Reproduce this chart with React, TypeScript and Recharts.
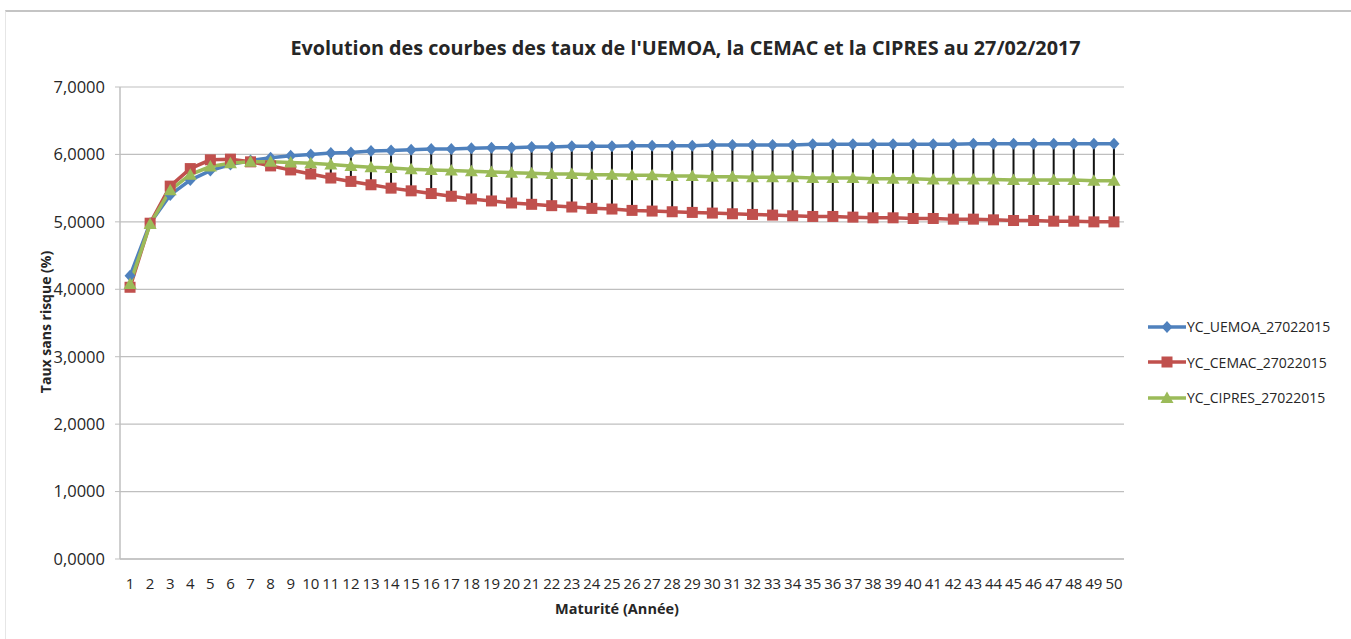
import React from "react";
import { ComposedChart, Line, Bar, XAxis, YAxis, CartesianGrid } from "recharts";

const maturities = [
  "1", "2", "3", "4", "5", "6", "7", "8", "9", "10",
  "11", "12", "13", "14", "15", "16", "17", "18", "19", "20",
  "21", "22", "23", "24", "25", "26", "27", "28", "29", "30",
  "31", "32", "33", "34", "35", "36", "37", "38", "39", "40",
  "41", "42", "43", "44", "45", "46", "47", "48", "49", "50",
];

const uemoa = [
  4.2, 4.98, 5.4, 5.62, 5.76, 5.85, 5.91, 5.95, 5.98, 6.0,
  6.02, 6.03, 6.05, 6.06, 6.07, 6.08, 6.08, 6.09, 6.1, 6.1,
  6.11, 6.11, 6.12, 6.12, 6.12, 6.13, 6.13, 6.13, 6.13, 6.14,
  6.14, 6.14, 6.14, 6.14, 6.15, 6.15, 6.15, 6.15, 6.15, 6.15,
  6.15, 6.15, 6.16, 6.16, 6.16, 6.16, 6.16, 6.16, 6.16, 6.16,
];

const cemac = [
  4.03, 4.98, 5.53, 5.79, 5.92, 5.93, 5.89, 5.83, 5.77, 5.71,
  5.65, 5.6, 5.55, 5.5, 5.46, 5.42, 5.38, 5.34, 5.31, 5.28,
  5.26, 5.24, 5.22, 5.2, 5.19, 5.17, 5.16, 5.15, 5.14, 5.13,
  5.12, 5.11, 5.1, 5.09, 5.08, 5.08, 5.07, 5.06, 5.06, 5.05,
  5.05, 5.04, 5.04, 5.03, 5.02, 5.02, 5.01, 5.01, 5.0, 5.0,
];

const cipres = [
  4.08, 4.97, 5.47, 5.7, 5.82, 5.87, 5.89, 5.89, 5.88, 5.87,
  5.85, 5.83, 5.81, 5.8, 5.78, 5.77, 5.76, 5.75, 5.74, 5.73,
  5.72, 5.71, 5.71, 5.7, 5.7, 5.69, 5.69, 5.68, 5.68, 5.67,
  5.67, 5.66, 5.66, 5.66, 5.65, 5.65, 5.65, 5.64, 5.64, 5.64,
  5.63, 5.63, 5.63, 5.63, 5.62, 5.62, 5.62, 5.62, 5.61, 5.61,
];

const yTicks = [0, 1, 2, 3, 4, 5, 6, 7];

const seriesNames = ["YC_UEMOA_27022015", "YC_CEMAC_27022015", "YC_CIPRES_27022015"];
const BLUE = "#4f81bd";
const RED = "#c0504d";
const GREEN = "#9bbb59";

const data = maturities.map((m, i) => {
  const vals = [uemoa[i], cemac[i], cipres[i]];
  return {
    m,
    uemoa: uemoa[i],
    cemac: cemac[i],
    cipres: cipres[i],
    hl: [Math.min(...vals), Math.max(...vals)],
  };
});

const FONT = "'Open Sans', sans-serif";

const Diamond = ({ cx, cy, color }: any) => (
  <polygon
    points={`${cx},${cy - 6} ${cx + 5.5},${cy} ${cx},${cy + 6} ${cx - 5.5},${cy}`}
    fill={color}
  />
);
const Square = ({ cx, cy, color }: any) => (
  <rect x={cx - 5.5} y={cy - 5.5} width={11} height={11} fill={color} />
);
const Triangle = ({ cx, cy, color }: any) => (
  <polygon points={`${cx},${cy - 6.5} ${cx + 6.5},${cy + 5} ${cx - 6.5},${cy + 5}`} fill={color} />
);

const markers = [
  (p: any) => <Diamond key={p.key} cx={p.cx} cy={p.cy} color={BLUE} />,
  (p: any) => <Square key={p.key} cx={p.cx} cy={p.cy} color={RED} />,
  (p: any) => <Triangle key={p.key} cx={p.cx} cy={p.cy} color={GREEN} />,
];

const fmt = (v: number) => v.toFixed(4).replace(".", ",");

export default function App() {
  const colors = [BLUE, RED, GREEN];
  return (
    <div
      style={{
        position: "absolute",
        left: 0,
        top: 0,
        width: 1351,
        height: 639,
        background: "#fff",
        fontFamily: FONT,
        overflow: "hidden",
      }}
    >
      <div
        style={{
          position: "absolute",
          left: 5,
          top: 10,
          width: 1346,
          height: 640,
          borderTop: "2px solid #c4c4c4",
          borderLeft: "1px solid #e6e6e6",
        }}
      />
      <div
        style={{
          position: "absolute",
          left: 0,
          width: 1351,
          top: 34,
          textAlign: "center",
          fontSize: 19.8,
          fontWeight: "bold",
          color: "#262626",
          paddingLeft: 20,
          boxSizing: "border-box",
        }}
      >
        Evolution des courbes des taux de l'UEMOA, la CEMAC et la CIPRES au 27/02/2017
      </div>
      <div
        style={{
          position: "absolute",
          left: 45,
          top: 322,
          transform: "translate(-50%, -50%) rotate(-90deg)",
          fontSize: 14,
          fontWeight: "bold",
          color: "#262626",
          whiteSpace: "nowrap",
        }}
      >
        Taux sans risque (%)
      </div>
      <div
        style={{
          position: "absolute",
          left: 617,
          top: 608,
          transform: "translate(-50%, -50%)",
          fontSize: 14.5,
          fontWeight: "bold",
          color: "#262626",
          whiteSpace: "nowrap",
        }}
      >
        Maturité (Année)
      </div>
      <div style={{ position: "absolute", left: 1148, top: 309 }}>
        {seriesNames.map((name, i) => (
          <div
            key={name}
            style={{ display: "flex", alignItems: "center", height: 35.5, fontSize: 14, color: "#262626" }}
          >
            <svg width={38} height={16} style={{ marginRight: 1 }}>
              <line x1={0} y1={8} x2={38} y2={8} stroke={colors[i]} strokeWidth={3.5} />
              {markers[i]({ cx: 19, cy: 8, key: "m" })}
            </svg>
            {name}
          </div>
        ))}
      </div>
      <div style={{ position: "absolute", left: 0, top: 0 }}>
        <ComposedChart
          width={1351}
          height={639}
          data={data}
          margin={{ top: 87, right: 227, bottom: 50, left: 60 }}
          style={{ fontFamily: FONT }}
        >
          <CartesianGrid vertical={false} stroke="#bfbfbf" strokeWidth={1.2} />
          <XAxis
            dataKey="m"
            interval={0}
            tickLine={false}
            axisLine={{ stroke: "#bfbfbf", strokeWidth: 1.5 }}
            tick={{ fontSize: 15, fill: "#262626" }}
            tickMargin={13}
            height={30}
          />
          <YAxis
            domain={[0, 7]}
            ticks={yTicks}
            width={60}
            tickFormatter={fmt}
            tickSize={5}
            tickLine={{ stroke: "#bfbfbf" }}
            axisLine={{ stroke: "#bfbfbf", strokeWidth: 1.5 }}
            tick={{ fontSize: 16.5, fill: "#262626" }}
            tickMargin={10}
          />
          <Line
            dataKey="uemoa"
            stroke={BLUE}
            strokeWidth={3.5}
            dot={markers[0]}
            activeDot={false}
            isAnimationActive={false}
          />
          <Line
            dataKey="cemac"
            stroke={RED}
            strokeWidth={3.5}
            dot={markers[1]}
            activeDot={false}
            isAnimationActive={false}
          />
          <Line
            dataKey="cipres"
            stroke={GREEN}
            strokeWidth={3.5}
            dot={markers[2]}
            activeDot={false}
            isAnimationActive={false}
          />
          <Bar dataKey="hl" fill="#111" barSize={2} isAnimationActive={false} />
        </ComposedChart>
      </div>
    </div>
  );
}
